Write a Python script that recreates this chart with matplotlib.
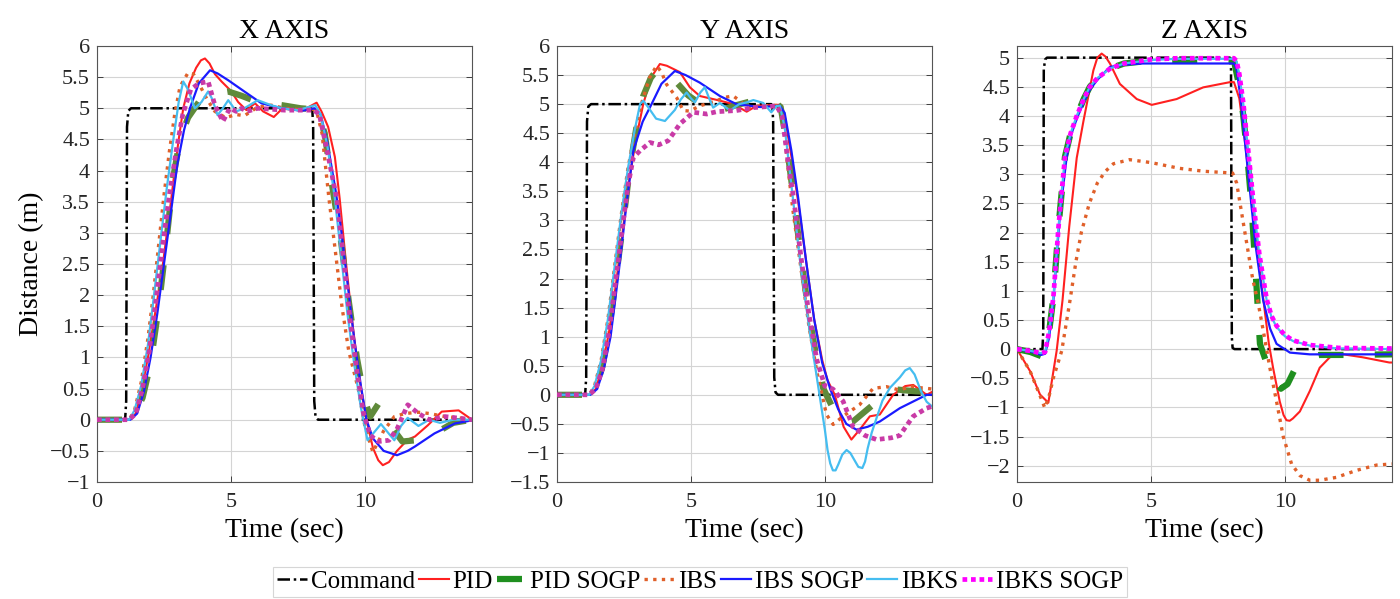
import matplotlib
matplotlib.use('Agg')
import matplotlib.pyplot as plt
from matplotlib.ticker import FuncFormatter, MultipleLocator
from matplotlib.lines import Line2D

plt.rcParams['font.family'] = ['Liberation Serif', 'DejaVu Serif']

# ---------------- data ----------------
series_names = ['Command', 'PID', 'PID SOGP', 'IBS', 'IBS SOGP', 'IBKS', 'IBKS SOGP']
panel_titles = ['X AXIS', 'Y AXIS', 'Z AXIS']
x_ticks = [0, 5, 10]

# ---- X axis ----
x_cmd_t = [0, 1.05, 1.09, 1.12, 1.17, 1.27, 8.0, 8.04, 8.07, 8.11, 8.16, 8.25, 14]
x_cmd_v = [0, 0, 0.3, 4.7, 4.96, 5.0, 5.0, 4.96, 4.7, 0.3, 0.04, 0, 0]

x_pid_t = [0, 1.2, 1.45, 1.68, 1.9, 2.09, 2.28, 2.46, 2.61, 2.76, 2.9, 3.05, 3.22, 3.45, 3.7, 3.88, 4.03, 4.2, 4.4, 4.65, 5.0, 5.27, 5.58, 5.9, 6.2, 6.6, 7.0, 7.3, 7.6, 7.9, 8.2, 8.38, 8.63, 8.88, 9.06, 9.3, 9.55, 9.8, 10.06, 10.3, 10.5, 10.67, 10.9, 11.2, 11.6, 11.87, 12.35, 12.87, 13.5, 14]
x_pid_v = [0, 0, 0.1, 0.5, 1.0, 1.5, 2.0, 2.5, 3.0, 3.5, 4.0, 4.5, 5.0, 5.4, 5.65, 5.77, 5.8, 5.72, 5.55, 5.43, 5.28, 5.1, 4.97, 5.08, 4.95, 4.86, 5.03, 5.0, 4.97, 5.02, 5.09, 4.95, 4.7, 4.22, 3.55, 2.5, 1.5, 0.65, 0, -0.45, -0.65, -0.73, -0.68, -0.5, -0.32, -0.27, -0.09, 0.13, 0.15, 0.0]

x_pidsogp_t = [0, 1.3, 1.7, 2.0, 2.3, 2.6, 2.85, 3.1, 3.4, 3.8, 4.2, 4.9, 5.4, 6.0, 6.9, 7.6, 8.2, 8.5, 8.8, 9.1, 9.4, 9.7, 10.0, 10.2, 10.5, 10.75, 11.0, 11.4, 11.9, 12.7, 13.3, 14]
x_pidsogp_v = [0, 0, 0.35, 0.9, 1.8, 2.9, 3.9, 4.5, 4.85, 5.1, 5.22, 5.27, 5.2, 5.1, 5.05, 5.0, 4.98, 4.6, 3.7, 2.9, 1.9, 1.0, 0.3, 0.05, 0.25, 0.1, -0.12, -0.35, -0.33, -0.2, -0.05, 0]

x_ibs_t = [0, 1.2, 1.4, 1.65, 1.9, 2.1, 2.3, 2.5, 2.7, 2.9, 3.1, 3.4, 3.6, 3.8, 4.1, 4.4, 4.8, 5.2, 5.5, 6.0, 6.5, 7.0, 7.5, 8.0, 8.2, 8.4, 8.66, 8.9, 9.15, 9.4, 9.75, 10.0, 10.3, 10.7, 11.1, 11.5, 12.0, 12.4, 13.0, 13.5, 14]
x_ibs_v = [0, 0, 0.15, 0.6, 1.3, 2.0, 2.8, 3.6, 4.3, 4.9, 5.35, 5.57, 5.55, 5.4, 5.15, 4.95, 4.85, 4.9, 4.88, 5.02, 5.05, 5.0, 4.98, 5.0, 4.95, 4.6, 3.55, 2.7, 1.8, 1.1, 0.5, -0.1, -0.52, -0.18, 0.05, 0.1, 0.12, 0.1, 0.05, 0.03, 0.0]

x_ibssogp_t = [0, 1.25, 1.5, 1.75, 2.0, 2.25, 2.5, 2.75, 3.0, 3.25, 3.47, 3.8, 4.22, 4.5, 4.9, 5.5, 6.14, 6.9, 7.64, 8.13, 8.35, 8.6, 8.9, 9.1, 9.35, 9.6, 9.85, 10.06, 10.3, 10.7, 11.2, 11.6, 11.87, 12.6, 13.36, 14]
x_ibssogp_v = [0, 0, 0.1, 0.45, 1.0, 1.7, 2.5, 3.3, 4.1, 4.65, 5.0, 5.4, 5.61, 5.56, 5.45, 5.27, 5.08, 5.0, 4.96, 5.0, 4.9, 4.45, 3.7, 3.1, 2.2, 1.3, 0.55, 0.0, -0.3, -0.5, -0.57, -0.5, -0.43, -0.22, -0.06, -0.01]

x_ibks_t = [0, 1.2, 1.4, 1.65, 1.9, 2.1, 2.35, 2.6, 2.85, 3.05, 3.22, 3.4, 3.65, 3.9, 4.15, 4.3, 4.5, 4.7, 4.9, 5.2, 5.5, 6.0, 6.5, 6.9, 7.5, 8.15, 8.35, 8.6, 8.88, 9.1, 9.35, 9.6, 9.85, 10.1, 10.35, 10.6, 10.85, 11.1, 11.35, 11.6, 12.0, 12.4, 12.8, 13.3, 14]
x_ibks_v = [0, 0, 0.15, 0.55, 1.2, 1.9, 2.8, 3.7, 4.5, 5.1, 5.43, 5.3, 5.0, 5.1, 5.27, 5.15, 4.89, 5.0, 5.13, 4.95, 5.0, 5.13, 5.05, 5.0, 4.97, 5.05, 4.9, 4.4, 3.55, 2.7, 1.7, 0.9, 0.2, -0.33, -0.2, -0.07, -0.2, -0.33, -0.1, 0.03, -0.1, 0.0, -0.05, 0.0, 0.0]

x_ibkssogp_t = [0, 1.2, 1.45, 1.7, 1.95, 2.2, 2.45, 2.7, 2.95, 3.2, 3.5, 3.8, 4.15, 4.4, 4.7, 4.96, 5.2, 5.4, 5.6, 6.0, 7.0, 8.1, 8.3, 8.6, 8.95, 9.2, 9.45, 9.7, 9.95, 10.2, 10.5, 10.9, 11.2, 11.6, 12.0, 12.4, 13.0, 14]
x_ibkssogp_v = [0, 0, 0.1, 0.5, 1.1, 1.9, 2.8, 3.6, 4.3, 4.9, 5.3, 5.4, 5.43, 5.05, 4.79, 5.0, 4.95, 5.0, 4.95, 5.0, 4.97, 4.97, 4.9, 4.3, 3.55, 2.6, 1.6, 0.8, 0.1, -0.25, -0.35, -0.33, -0.15, 0.24, 0.1, 0.0, 0.05, 0.0]

# ---- Y axis ----
y_cmd_t = x_cmd_t
y_cmd_v = x_cmd_v

y_pid_t = [0, 1.2, 1.45, 1.7, 1.95, 2.2, 2.45, 2.7, 2.95, 3.22, 3.5, 3.84, 4.1, 4.59, 4.96, 5.33, 6.08, 6.58, 7.08, 7.45, 8.32, 8.5, 8.75, 9.0, 9.3, 9.6, 9.9, 10.1, 10.37, 10.7, 10.99, 11.3, 11.68, 12.05, 12.55, 13.0, 13.3, 13.8, 14]
y_pid_v = [0, 0, 0.1, 0.5, 1.1, 1.9, 2.8, 3.7, 4.4, 5.0, 5.45, 5.69, 5.66, 5.55, 5.29, 5.14, 5.06, 5.0, 4.87, 4.97, 4.99, 4.8, 4.1, 3.33, 2.3, 1.3, 0.6, 0.25, 0, -0.55, -0.77, -0.6, -0.37, -0.34, 0, 0.15, 0.17, 0.0, 0.05]

y_pidsogp_t = [0, 1.2, 1.45, 1.7, 1.95, 2.2, 2.45, 2.72, 3.0, 3.22, 3.5, 3.75, 4.1, 4.47, 4.9, 5.46, 6.08, 6.6, 7.33, 8.07, 8.35, 8.55, 8.8, 9.1, 9.4, 9.7, 9.94, 10.3, 10.7, 11.05, 11.8, 12.3, 12.7, 13.4, 14]
y_pidsogp_v = [0, 0, 0.1, 0.5, 1.15, 2.0, 2.9, 3.9, 4.7, 5.14, 5.45, 5.6, 5.5, 5.37, 5.15, 4.97, 4.89, 4.97, 5.06, 5.06, 4.95, 4.4, 3.5, 2.4, 1.4, 0.6, 0.11, -0.23, -0.5, -0.46, -0.17, 0.0, 0.09, 0.06, 0.05]

y_ibs_t = [0, 1.2, 1.4, 1.65, 1.9, 2.15, 2.4, 2.65, 2.9, 3.15, 3.45, 3.72, 3.9, 4.09, 4.47, 4.71, 4.96, 5.33, 5.9, 6.3, 6.58, 6.85, 7.08, 7.6, 8.32, 8.45, 8.6, 8.8, 9.1, 9.4, 9.7, 10.06, 10.31, 10.68, 11.3, 11.8, 12.3, 12.8, 13.2, 13.6, 14]
y_ibs_v = [0, 0, 0.15, 0.6, 1.3, 2.2, 3.1, 3.9, 4.5, 5.0, 5.45, 5.66, 5.55, 5.34, 5.11, 4.89, 4.88, 4.97, 5.05, 5.12, 5.14, 5.05, 4.94, 4.97, 4.98, 4.7, 4.0, 3.2, 2.2, 1.2, 0.4, -0.34, -0.51, -0.37, -0.17, 0.11, 0.14, 0.08, 0.15, 0.12, 0.1]

y_ibssogp_t = [0, 1.25, 1.5, 1.75, 2.0, 2.3, 2.6, 2.85, 3.2, 3.53, 3.9, 4.4, 4.8, 5.33, 6.08, 6.7, 7.57, 8.32, 8.5, 8.75, 9.0, 9.3, 9.6, 9.9, 10.2, 10.5, 10.8, 11.18, 11.6, 12.05, 12.8, 13.8, 14]
y_ibssogp_v = [0, 0, 0.1, 0.45, 1.0, 2.1, 3.3, 4.2, 4.7, 5.0, 5.35, 5.57, 5.5, 5.37, 5.14, 5.0, 4.95, 4.97, 4.85, 4.2, 3.4, 2.3, 1.3, 0.55, 0.1, -0.25, -0.5, -0.6, -0.55, -0.46, -0.23, 0.0, 0.0]

y_ibks_t = [0, 1.2, 1.4, 1.65, 1.9, 2.15, 2.4, 2.65, 2.9, 3.1, 3.22, 3.4, 3.7, 4.03, 4.4, 4.62, 4.84, 5.0, 5.15, 5.35, 5.52, 5.68, 5.83, 6.08, 6.46, 6.8, 7.08, 7.33, 7.7, 8.0, 8.2, 8.32, 8.5, 8.82, 9.1, 9.4, 9.7, 9.85, 10.0, 10.1, 10.2, 10.3, 10.4, 10.5, 10.65, 10.81, 10.95, 11.1, 11.25, 11.4, 11.5, 11.6, 11.75, 11.93, 12.15, 12.43, 12.8, 13.0, 13.17, 13.35, 13.6, 13.8, 14]
y_ibks_v = [0, 0, 0.15, 0.6, 1.3, 2.2, 3.1, 3.9, 4.55, 5.0, 5.06, 4.95, 4.75, 4.71, 4.9, 5.08, 5.2, 5.1, 5.03, 5.2, 5.29, 5.1, 4.94, 5.02, 4.89, 5.0, 5.03, 5.07, 5.02, 4.86, 4.97, 4.97, 4.6, 3.33, 2.2, 1.2, 0.3, -0.15, -0.6, -0.95, -1.18, -1.3, -1.3, -1.2, -1.03, -0.95, -1.0, -1.12, -1.24, -1.26, -1.15, -0.92, -0.65, -0.4, -0.1, 0.12, 0.3, 0.42, 0.46, 0.35, 0.05, -0.12, -0.2]

y_ibkssogp_t = [0, 1.2, 1.45, 1.7, 1.95, 2.2, 2.45, 2.65, 2.85, 3.1, 3.47, 3.8, 4.15, 4.59, 5.09, 5.59, 5.96, 6.7, 7.33, 8.2, 8.4, 8.6, 8.85, 9.1, 9.4, 9.7, 10.0, 10.3, 10.68, 11.05, 11.5, 11.93, 12.48, 12.8, 12.99, 13.3, 13.8, 14]
y_ibkssogp_v = [0, 0, 0.1, 0.45, 1.1, 2.0, 2.9, 3.6, 4.08, 4.2, 4.34, 4.3, 4.37, 4.66, 4.86, 4.83, 4.87, 4.89, 4.94, 4.97, 4.8, 4.1, 3.33, 2.4, 1.4, 0.6, 0.15, 0.1, -0.11, -0.55, -0.7, -0.77, -0.74, -0.7, -0.57, -0.37, -0.23, -0.2]

# ---- Z axis ----
z_cmd_t = [0, 0.95, 0.98, 1.0, 1.05, 1.12, 7.95, 7.99, 8.02, 8.05, 8.12, 14]
z_cmd_v = [0, 0, 0.3, 4.8, 4.97, 5.0, 5.0, 4.8, 0.2, 0.02, 0, 0]

z_pid_t = [0, 0.49, 0.86, 1.17, 1.3, 1.48, 1.7, 1.95, 2.23, 2.48, 2.85, 3.0, 3.16, 3.3, 3.47, 3.84, 4.47, 5.03, 5.96, 6.95, 7.95, 8.1, 8.3, 8.5, 8.7, 8.9, 9.05, 9.2, 9.4, 9.56, 9.81, 9.95, 10.06, 10.18, 10.3, 10.56, 10.93, 11.3, 11.68, 12.18, 12.9, 13.9, 14]
z_pid_v = [0, -0.38, -0.78, -0.92, -0.55, -0.03, 0.84, 2.1, 3.28, 3.91, 4.78, 5.0, 5.07, 5.02, 4.9, 4.55, 4.29, 4.19, 4.29, 4.49, 4.58, 4.58, 4.3, 3.6, 2.8, 2.0, 1.4, 0.84, 0.1, -0.32, -0.9, -1.13, -1.22, -1.23, -1.19, -1.07, -0.72, -0.32, -0.14, -0.09, -0.14, -0.23, -0.23]

z_pidsogp_t = [0, 0.5, 0.9, 1.05, 1.2, 1.36, 1.55, 1.79, 2.0, 2.23, 2.5, 2.72, 3.0, 3.5, 4.0, 5.0, 6.0, 8.1, 8.3, 8.45, 8.6, 8.75, 8.9, 9.07, 9.38, 9.6, 9.85, 10.1, 10.4, 10.8, 11.3, 12.2, 14]
z_pidsogp_v = [0, -0.05, -0.12, -0.1, 0.3, 0.9, 2.1, 3.3, 3.7, 4.0, 4.3, 4.5, 4.65, 4.82, 4.9, 4.95, 4.95, 4.95, 4.5, 4.0, 3.3, 2.5, 1.4, 0.09, -0.32, -0.55, -0.68, -0.6, -0.32, -0.15, -0.1, -0.1, -0.09]

z_ibs_t = [0, 0.49, 0.86, 1.04, 1.2, 1.36, 1.67, 1.98, 2.2, 2.4, 2.7, 3.0, 3.3, 3.6, 4.2, 5.0, 6.08, 7.0, 8.05, 8.2, 8.4, 8.6, 8.8, 9.0, 9.2, 9.44, 9.69, 9.94, 10.25, 10.56, 10.93, 11.3, 11.93, 12.68, 13.42, 14]
z_ibs_v = [0, -0.38, -0.8, -1.01, -0.8, -0.49, -0.03, 0.84, 1.5, 2.0, 2.5, 2.85, 3.05, 3.18, 3.25, 3.2, 3.1, 3.05, 3.02, 2.85, 2.3, 1.75, 1.2, 0.8, 0.3, -0.32, -0.9, -1.5, -1.97, -2.17, -2.25, -2.25, -2.2, -2.08, -1.99, -1.97]

z_ibssogp_t = [0, 0.5, 0.9, 1.05, 1.2, 1.36, 1.6, 1.85, 2.0, 2.23, 2.5, 2.72, 3.0, 3.47, 4.0, 4.7, 8.1, 8.2, 8.35, 8.5, 8.7, 8.9, 9.19, 9.45, 9.69, 10.19, 10.93, 14]
z_ibssogp_v = [0, -0.04, -0.1, -0.08, 0.2, 0.84, 2.3, 3.28, 3.65, 3.95, 4.25, 4.45, 4.62, 4.84, 4.88, 4.9, 4.9, 4.8, 4.3, 3.6, 2.7, 1.8, 0.84, 0.35, 0.09, -0.06, -0.09, -0.09]

z_ibks_t = [0, 0.5, 0.9, 1.05, 1.2, 1.36, 1.55, 1.79, 2.0, 2.23, 2.5, 2.72, 3.0, 3.5, 4.0, 5.0, 6.0, 8.1, 8.2, 8.3, 8.45, 8.63, 8.85, 9.05, 9.32, 9.5, 9.69, 10.0, 10.3, 10.93, 12.0, 14]
z_ibks_v = [0, -0.03, -0.07, -0.05, 0.3, 0.9, 2.1, 3.3, 3.7, 4.0, 4.3, 4.5, 4.65, 4.82, 4.9, 4.96, 4.98, 4.98, 4.93, 4.7, 4.2, 3.4, 2.4, 1.6, 0.84, 0.55, 0.38, 0.22, 0.14, 0.06, 0.01, 0.0]

z_ibkssogp_t = z_ibks_t
z_ibkssogp_v = [0, -0.03, -0.07, -0.05, 0.3, 0.9, 2.1, 3.3, 3.7, 4.0, 4.3, 4.5, 4.65, 4.82, 4.9, 4.97, 4.99, 4.99, 4.94, 4.72, 4.22, 3.42, 2.42, 1.62, 0.86, 0.57, 0.4, 0.24, 0.15, 0.07, 0.02, 0.01]

y_limits = [(-1, 6), (-1.5, 6), (-2.28, 5.2)]

panels = [
    [(x_cmd_t, x_cmd_v), (x_pid_t, x_pid_v), (x_pidsogp_t, x_pidsogp_v), (x_ibs_t, x_ibs_v),
     (x_ibssogp_t, x_ibssogp_v), (x_ibks_t, x_ibks_v), (x_ibkssogp_t, x_ibkssogp_v)],
    [(y_cmd_t, y_cmd_v), (y_pid_t, y_pid_v), (y_pidsogp_t, y_pidsogp_v), (y_ibs_t, y_ibs_v),
     (y_ibssogp_t, y_ibssogp_v), (y_ibks_t, y_ibks_v), (y_ibkssogp_t, y_ibkssogp_v)],
    [(z_cmd_t, z_cmd_v), (z_pid_t, z_pid_v), (z_pidsogp_t, z_pidsogp_v), (z_ibs_t, z_ibs_v),
     (z_ibssogp_t, z_ibssogp_v), (z_ibks_t, z_ibks_v), (z_ibkssogp_t, z_ibkssogp_v)],
]

# ---------------- styles ----------------
def styles(panel):
    green = '#5f8a3a' if panel < 2 else '#1f8f1f'
    mag = '#c93aa6' if panel < 2 else '#ff00ff'
    return [
        dict(color='black', lw=1.8, ls=(0, (5, 1.5, 1, 1.5))),
        dict(color='#ff2020', lw=1.5, ls='-'),
        dict(color=green, lw=4.5, ls=(0, (4, 5)), dash_capstyle='butt'),
        dict(color='#e0602a', lw=2.4, ls=(0, (1, 1.6)), dash_capstyle='butt'),
        dict(color='#1a1aff', lw=1.6, ls='-'),
        dict(color='#45bdf0', lw=1.6, ls='-'),
        dict(color=mag, lw=3.4, ls=(0, (1, 0.8)), dash_capstyle='butt'),
    ]

fmt = FuncFormatter(lambda v, p: ('%g' % round(v, 3)).replace('-', '\u2212'))

fig = plt.figure(figsize=(14, 5.99), dpi=100)
lefts = [97 / 1400, 557 / 1400, 1017 / 1400]
width = 375 / 1400
bottom = 1 - 482 / 599
height = (482 - 46) / 599

for i in range(3):
    ax = fig.add_axes([lefts[i], bottom, width, height])
    st = styles(i)
    order = [0, 1, 3, 4, 5, 6, 2]
    for k in order:
        t, v = panels[i][k]
        ax.plot(t, v, label=series_names[k], zorder=2 + k * 0.1, **st[k])
    ax.set_xlim(0, 14)
    ax.set_ylim(*y_limits[i])
    ax.set_xticks(x_ticks)
    ax.yaxis.set_major_locator(MultipleLocator(0.5))
    ax.yaxis.set_major_formatter(fmt)
    ax.xaxis.set_major_formatter(fmt)
    ax.grid(True, color='#d4d4d4', lw=0.8)
    ax.set_axisbelow(True)
    ax.tick_params(direction='in', length=4, width=0.6, labelsize=16, colors='#262626',
                   top=True, right=True)
    ax.tick_params(axis='x', pad=8)
    ax.tick_params(axis='y', pad=5)
    for s in ax.spines.values():
        s.set_color('#555555')
        s.set_linewidth(0.8)
    ax.set_title(panel_titles[i], fontsize=20, pad=6)
    ax.set_xlabel('Time (sec)', fontsize=20, labelpad=4)
    if i == 0:
        ax.set_ylabel('Distance (m)', fontsize=20, labelpad=4)

st = styles(2)
handles = [Line2D([], [], **st[k]) for k in range(7)]
leg = fig.legend(handles, series_names, loc='lower center', bbox_to_anchor=(0.5, 0.0),
                 ncol=7, fontsize=18, handlelength=1.2, handletextpad=0.15,
                 columnspacing=0.15, borderpad=0.15, frameon=True, fancybox=False,
                 borderaxespad=0.1)
leg.get_frame().set_edgecolor('#cccccc')
leg.get_frame().set_linewidth(0.8)

fig.savefig('out.png', dpi=100)
